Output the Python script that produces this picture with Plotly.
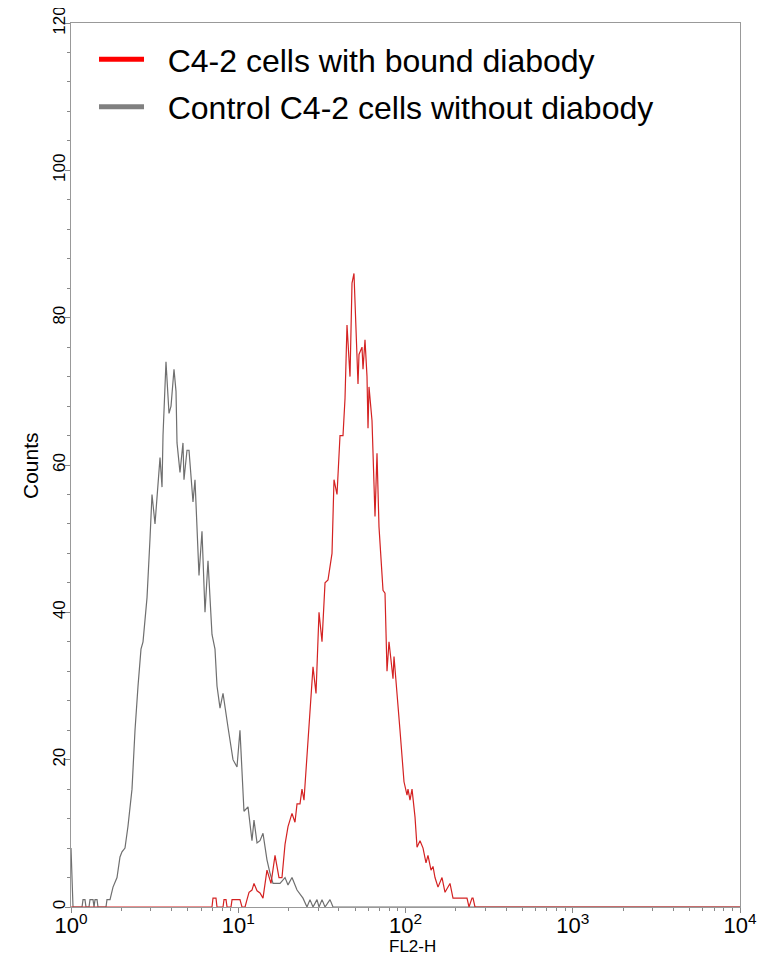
import plotly.graph_objects as go

# Control C4-2 cells without diabody (gray)
gray_x = [1.0, 1.028, 1.164, 1.180, 1.212, 1.229, 1.281, 1.299, 1.354, 1.373, 1.392, 1.431, 1.450,
          1.619, 1.641, 1.687, 1.711, 1.783, 1.884, 1.963, 2.018, 2.103, 2.192, 2.316, 2.414, 2.516,
          2.621, 2.695, 2.848, 2.967, 3.050, 3.179, 3.313, 3.406, 3.501, 3.549, 3.698, 3.802, 3.855,
          3.963, 4.129, 4.245, 4.304, 4.484, 4.673, 4.737, 4.938, 5.076, 5.363, 5.513, 5.825, 6.070,
          6.327, 6.594, 6.966, 7.261, 7.464, 7.780, 8.108, 8.685, 9.303, 9.829, 10.24, 10.82, 11.44,
          12.08, 12.42, 12.95, 13.49, 14.06, 14.85, 15.48, 16.14, 17.77, 19.04, 19.84, 20.96, 22.46,
          24.38, 25.76, 26.85, 27.99, 29.57, 30.40, 31.68, 33.02, 35.37, 36.86, 10000]
gray_y = [8, 0, 0, 1, 1, 0, 0, 1, 1, 0, 1, 1, 0,
          0, 1, 1, 1, 2.7, 4, 6.8, 7.5, 8, 11, 16, 24, 30,
          35, 36, 42, 50, 56, 52, 57, 61, 57, 64, 74, 69, 67,
          68, 73, 70, 63, 59, 63, 58, 62, 62, 55, 58, 45, 51,
          40, 47, 37, 35, 30, 27, 29, 24.4, 20, 19, 24, 13, 13.6,
          9, 11.8, 8.7, 9, 10, 6.4, 4.6, 3.2, 3.2, 4, 3, 4, 2.3,
          1.2, 0, 1, 0, 1, 0, 1, 0, 1, 0, 0]

# C4-2 cells with bound diabody (red)
red_x = [1.0, 6.966, 7.063, 7.36, 7.464, 8.108, 8.22, 8.45, 8.57, 9.05, 9.18, 10.24, 10.53, 10.98,
         11.28, 11.60, 12.08, 12.42, 12.95, 13.49, 14.06, 14.85, 15.70, 16.59, 17.52, 18.26, 19.04,
         19.84, 20.96, 21.84, 22.46, 23.40, 24.05, 24.72, 25.76, 26.85, 27.99, 29.17, 30.40, 31.68,
         33.02, 34.41, 36.36, 37.37, 38.95, 40.59, 42.30, 43.48, 44.69, 46.58, 47.88, 49.20, 50.58,
         52.00, 52.72, 54.95, 55.71, 57.26, 58.86, 59.68, 60.51, 63.06, 65.72, 67.55, 69.43, 73.37,
         75.42, 77.52, 79.68, 84.19, 85.36, 88.95, 92.70, 97.95, 102.1, 103.5, 106.4, 109.4, 114.0,
         117.2, 122.1, 127.3, 132.6, 136.3, 142.1, 146.0, 150.1, 156.4, 165.3, 172.3, 184.5, 192.3,
         233.2, 239.7, 249.8, 253.3, 260.3, 10000]
red_y = [0, 0, 1.2, 1.2, 0, 0, 1, 1, 0, 0, 1, 1, 0, 0,
         1, 2, 2.3, 3.2, 2.2, 1.9, 1.2, 5, 3.2, 7, 4, 4, 8.5,
         10.9, 12.7, 11.5, 14, 14, 16, 14.5, 20.5, 26, 32.6, 29, 40, 36,
         44, 44.4, 48, 58, 56, 64, 64, 69, 79, 72, 84.7, 86, 79,
         71, 75, 76, 73, 77, 72, 65, 70.6, 66, 53, 61.6, 51.6, 43,
         42.6, 32, 36, 31, 34, 28.5, 24, 17, 15.2, 16, 14.5, 16, 12.2,
         8.1, 9, 8, 6, 7, 5, 5.5, 4, 2.7, 4, 2, 3.2, 1.2,
         1.2, 0, 1.2, 1.2, 0, 0]

legend_names = ["C4-2 cells with bound diabody", "Control C4-2 cells without diabody"]
x_title = "FL2-H"
y_title = "Counts"
x_tickvals = [1, 10, 100, 1000, 10000]
x_ticktext = ["10<sup>0</sup>", "10<sup>1</sup>", "10<sup>2</sup>", "10<sup>3</sup>", "10<sup>4</sup>"]
y_tickvals = [0, 20, 40, 60, 80, 100, 120]
x_minor = [m * d for d in (1, 10, 100, 1000) for m in range(2, 10)]

fig = go.Figure()
fig.add_trace(go.Scatter(x=gray_x, y=gray_y, mode="lines",
                         line=dict(color="#6f6f6f", width=1.2), showlegend=False))
fig.add_trace(go.Scatter(x=red_x, y=red_y, mode="lines",
                         line=dict(color="#d42222", width=1.2), showlegend=False))
# legend entries
fig.add_trace(go.Scatter(x=[None], y=[None], mode="lines", name="\u2002\u200a" + legend_names[0],
                         legendgroup="a", line=dict(color="#ff0000", width=5)))
fig.add_trace(go.Scatter(x=[None], y=[None], mode="lines", name="\u2002\u200a" + legend_names[1],
                         legendgroup="b", line=dict(color="#808080", width=5)))

fig.update_layout(
    template="none",
    width=757, height=950,
    margin=dict(l=63, r=25, t=15, b=51, autoexpand=False),
    paper_bgcolor="white", plot_bgcolor="white",
    font=dict(family="Liberation Sans, Arial, sans-serif", color="black"),
    legend=dict(x=0.0344, y=0.99, xanchor="left", yanchor="top",
                font=dict(size=32, color="black"), bgcolor="rgba(0,0,0,0)",
                traceorder="grouped", tracegroupgap=3, itemwidth=45),
    xaxis=dict(type="log", range=[0, 4], tickvals=x_tickvals, ticktext=x_ticktext,
               ticks="outside", ticklen=5, tickcolor="#888", tickfont=dict(size=22),
               ticklabelstandoff=-6, ticklabeloverflow="allow",
               showline=True, linecolor="#999", linewidth=1, mirror=True,
               showgrid=False, zeroline=False, automargin=False,
               minor=dict(tickvals=x_minor, ticks="outside", ticklen=3, tickcolor="#888")),
    yaxis=dict(range=[0, 120], tickvals=y_tickvals, tickangle=-90,
               ticks="outside", ticklen=5, tickcolor="#888", tickfont=dict(size=17),
               ticklabelstandoff=-7, ticklabeloverflow="allow",
               showline=True, linecolor="#999", linewidth=1, mirror=True,
               showgrid=False, zeroline=False, automargin=False,
               minor=dict(dtick=4, ticks="outside", ticklen=3, tickcolor="#888")),
    annotations=[
        dict(text=x_title, xref="paper", yref="paper", x=0.51, y=-0.045,
             xanchor="center", yanchor="middle", showarrow=False, font=dict(size=17)),
        dict(text=y_title, xref="paper", yref="paper", x=-0.0613, y=0.5,
             xanchor="center", yanchor="middle", showarrow=False, textangle=-90,
             font=dict(size=21)),
    ],
)

fig.write_html("out.html")
